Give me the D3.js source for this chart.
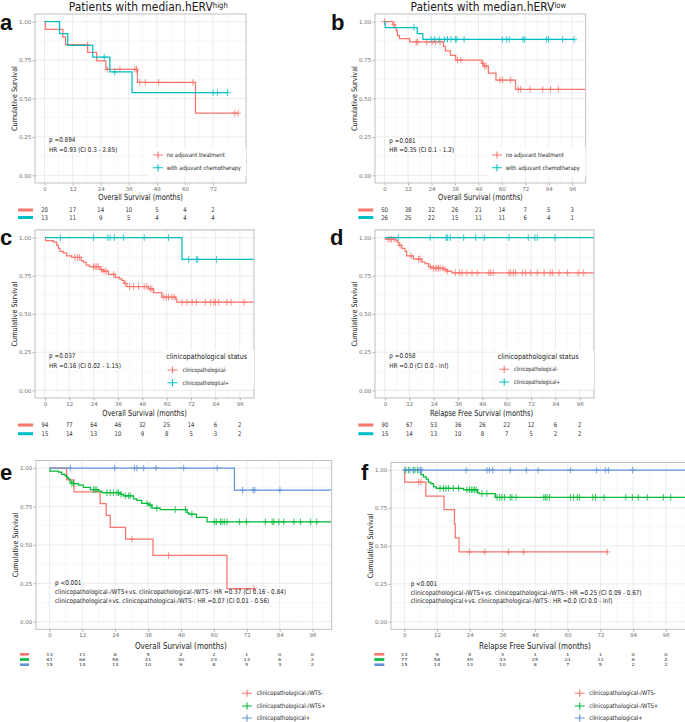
<!DOCTYPE html>
<html><head><meta charset="utf-8">
<script src="https://cdn.jsdelivr.net/npm/d3@7"></script>
<style>html,body{margin:0;padding:0;background:#fff;} svg{display:block;}</style>
</head><body>
<svg id="chart" width="685" height="722"></svg>
<script>
// ---------------- DATA ----------------
const monthTicks72 = [0, 12, 24, 36, 48, 60, 72];
const monthTicks96 = [0, 12, 24, 36, 48, 60, 72, 84, 96];
const yTickValues = [0, 0.25, 0.5, 0.75, 1];

// Panel a: median.hERV high
const aNoAdjTime = [0.3, 7.8, 9.0, 18.4, 22.3, 26.2, 39.7, 64.5];
const aNoAdjSurv = [0.95, 0.90, 0.85, 0.80, 0.745, 0.69, 0.605, 0.404];
const aNoAdjCens = [18.3, 26.8, 32.2, 38.6, 39.3, 40.7, 43.1, 48.7, 63.4, 81.3, 82.7];
const aNoAdjEnd = 82.7;
const aChemoTime = [6.4, 9.9, 20.6, 27.9, 37.4];
const aChemoSurv = [0.923, 0.846, 0.769, 0.673, 0.538];
const aChemoCens = [25.5, 30.0, 72.0, 73.9, 78.2];
const aChemoEnd = 78.2;
const aRiskNoAdj = [20, 17, 14, 10, 5, 4, 2];
const aRiskChemo = [13, 11, 9, 5, 4, 4, 4];

// Panel b: median.hERV low
const bNoAdjTime = [4.3, 5.3, 6.0, 6.6, 7.6, 12.8, 30.1, 31.1, 33.7, 36.4, 49.8, 50.6, 53.1, 57.0, 67.0];
const bNoAdjSurv = [0.98, 0.96, 0.94, 0.91, 0.89, 0.868, 0.84, 0.81, 0.78, 0.75, 0.73, 0.71, 0.665, 0.62, 0.56];
const bNoAdjCens = [0, 4.8, 16.2, 16.9, 21.6, 24.3, 26.0, 28.4, 37.3, 39.0, 50.2, 51.2, 52.0, 59.1, 60.4, 64.5, 68.4, 69.6, 74.4, 80.9, 84.9, 88.9];
const bNoAdjEnd = 103;
const bChemoTime = [0.3, 16.7, 19.6];
const bChemoSurv = [0.962, 0.923, 0.885];
const bChemoCens = [15.0, 23.7, 25.6, 27.9, 30.6, 32.2, 34.0, 36.3, 37.0, 40.7, 60.3, 62.3, 63.7, 70.8, 71.7, 82.9, 83.9, 91.1, 97.0];
const bChemoEnd = 97;
const bRiskNoAdj = [50, 38, 32, 26, 21, 14, 7, 5, 3];
const bRiskChemo = [26, 25, 22, 15, 11, 11, 6, 4, 1];

// Panel c: OS by clinicopathological status
const cNegTime = [0.3, 4.1, 5.8, 6.6, 7.4, 9.1, 10.7, 13.2, 17.8, 18.9, 20.3, 21.9, 27.2, 28.8, 31.3, 34.6, 36.7, 37.9, 39.0, 40.3, 51.0, 53.5, 57.6, 64.5, 65.0];
const cNegSurv = [0.98, 0.97, 0.95, 0.93, 0.91, 0.90, 0.88, 0.87, 0.85, 0.84, 0.82, 0.81, 0.79, 0.78, 0.76, 0.74, 0.73, 0.72, 0.70, 0.68, 0.665, 0.64, 0.61, 0.595, 0.577];
const cNegCens = [14.8, 16.0, 17.0, 23.9, 24.7, 25.5, 26.3, 28.0, 29.1, 30.1, 33.8, 39.5, 41.7, 43.6, 46.1, 48.9, 50.2, 51.9, 52.7, 58.5, 59.8, 60.9, 62.6, 63.7, 67.5, 70.0, 72.5, 74.6, 79.0, 81.5, 83.2, 84.0, 85.6, 89.7, 91.7, 98.0];
const cNegEnd = 103;
const cPosTime = [67.5];
const cPosSurv = [0.857];
const cPosCens = [7.6, 23.9, 31.0, 32.1, 34.2, 38.7, 48.9, 60.9, 70.8, 74.6, 75.3, 84.5];
const cPosEnd = 103;
const cRiskNeg = [94, 77, 64, 46, 32, 25, 14, 6, 2];
const cRiskPos = [15, 14, 13, 10, 9, 8, 5, 3, 2];

// Panel d: RFS by clinicopathological status
const dNegTime = [0.2, 5.4, 6.1, 6.9, 8.3, 9.9, 10.7, 14.0, 18.2, 19.8, 21.5, 23.1, 28.9, 30.5, 33.0];
const dNegSurv = [0.99, 0.98, 0.97, 0.95, 0.93, 0.91, 0.88, 0.86, 0.84, 0.83, 0.81, 0.80, 0.79, 0.78, 0.77];
const dNegCens = [1.5, 2.5, 3.3, 4.5, 7.4, 12.9, 16.5, 17.3, 22.3, 23.9, 24.8, 25.6, 26.4, 27.2, 28.5, 29.7, 30.9, 34.7, 36.8, 38.0, 40.4, 42.9, 45.4, 51.2, 52.0, 53.3, 61.1, 61.9, 63.2, 64.4, 67.7, 69.3, 71.8, 75.1, 78.4, 81.4, 82.5, 85.8, 89.9, 95.2, 97.9];
const dNegEnd = 103;
const dPosTime = [];
const dPosSurv = [];
const dPosCens = [6.6, 22.3, 30.2, 30.9, 32.2, 38.8, 44.7, 49.0, 61.1, 70.6, 73.9, 75.1, 83.8];
const dPosEnd = 103;
const dRiskNeg = [90, 67, 53, 36, 26, 22, 12, 6, 2];
const dRiskPos = [15, 14, 13, 10, 8, 7, 5, 2, 2];

// Panel e: OS, three groups
const eWtsNegTime = [6.3, 9.0, 18.5, 20.7, 22.2, 27.8, 37.8, 64.8];
const eWtsNegSurv = [0.923, 0.846, 0.769, 0.692, 0.615, 0.538, 0.431, 0.215];
const eWtsNegCens = [30.1, 43.5, 74.6];
const eWtsNegEnd = 74.6;
const eWtsPosTime = [0.2, 3.3, 4.5, 5.7, 6.3, 6.9, 7.5, 8.2, 10.6, 12.4, 14.9, 17.9, 19.1, 25.8, 27.0, 30.7, 31.9, 33.7, 36.2, 37.4, 40.4, 50.2, 50.8, 53.6, 57.5];
const eWtsPosSurv = [0.98, 0.975, 0.96, 0.95, 0.94, 0.93, 0.91, 0.90, 0.89, 0.875, 0.86, 0.85, 0.84, 0.83, 0.82, 0.80, 0.79, 0.77, 0.76, 0.74, 0.73, 0.71, 0.70, 0.68, 0.65];
const eWtsPosCens = [8.2, 8.8, 16.1, 16.7, 17.3, 21.0, 22.2, 23.4, 24.6, 25.2, 26.1, 27.7, 28.9, 29.5, 35.6, 36.8, 39.2, 45.9, 49.6, 52.0, 60.2, 60.9, 62.4, 63.0, 63.8, 64.8, 69.4, 71.9, 78.8, 81.3, 81.9, 83.7, 85.5, 89.2, 91.6, 95.3, 97.5];
const eWtsPosEnd = 103;
const eClinPosTime = [67.5];
const eClinPosSurv = [0.857];
const eClinPosCens = [7.6, 23.8, 31.0, 31.9, 34.4, 38.9, 49.0, 61.2, 70.5, 74.3, 74.9, 84.1];
const eClinPosEnd = 103;
const eRiskWtsNeg = [13, 11, 8, 5, 2, 2, 1, 0, 0];
const eRiskWtsPos = [81, 66, 56, 41, 30, 23, 13, 6, 2];
const eRiskClinPos = [15, 14, 13, 10, 9, 8, 5, 3, 2];

// Panel f: RFS, three groups
const fWtsNegTime = [0.1, 7.9, 14.6, 18.4, 18.7, 20.1];
const fWtsNegSurv = [0.921, 0.829, 0.739, 0.645, 0.553, 0.46];
const fWtsNegCens = [5.2, 6.1, 23.9, 29.5, 38.3, 43.8, 74.5];
const fWtsNegEnd = 74.5;
const fWtsPosTime = [6.1, 7.0, 8.0, 8.8, 9.7, 10.7, 11.7, 21.7, 26.9, 27.5, 33.4];
const fWtsPosSurv = [0.97, 0.955, 0.94, 0.92, 0.91, 0.89, 0.88, 0.87, 0.85, 0.845, 0.82];
const fWtsPosCens = [0.5, 1.5, 3.3, 3.9, 4.8, 13.1, 14.4, 15.3, 16.2, 18.0, 19.9, 23.0, 23.9, 24.6, 25.2, 25.8, 26.4, 28.5, 30.3, 34.0, 35.0, 35.8, 36.8, 38.9, 39.5, 41.0, 51.2, 51.8, 52.4, 53.3, 61.0, 62.2, 63.5, 64.3, 69.2, 70.2, 73.3, 81.3, 83.7, 85.9, 89.2, 95.1, 97.8];
const fWtsPosEnd = 104;
const fClinPosTime = [];
const fClinPosSurv = [];
const fClinPosCens = [0.2, 2.1, 3.3, 5.4, 6.0, 6.4, 22.7, 30.4, 31.2, 32.4, 38.9, 44.8, 49.1, 61.0, 70.6, 73.8, 74.9, 83.8];
const fClinPosEnd = 104;
const fRiskWtsNeg = [13, 9, 4, 3, 1, 1, 1, 0, 0];
const fRiskWtsPos = [77, 58, 49, 33, 25, 21, 11, 6, 2];
const fRiskClinPos = [15, 14, 13, 10, 8, 7, 5, 2, 2];

// ---------------- DRAWING ----------------
const RED = '#F8766D', TEAL = '#00BFC4', GREEN = '#00BA38', BLUE = '#6193DB';
const FONT = 'DejaVu Sans, sans-serif';
const svg = d3.select('#chart');
svg.append('rect').attr('width', 685).attr('height', 722).attr('fill', '#fff');

function txt(g, x, y, s, size, o = {}) {
  const sx = o.sx ?? 0.86, sy = o.sy ?? 1, rot = o.rot ? ` rotate(${o.rot})` : '';
  const t = g.append('text')
    .attr('transform', `translate(${x},${y})${rot} scale(${sx},${sy})`)
    .attr('font-size', size).attr('font-family', o.family || FONT)
    .attr('text-anchor', o.anchor || 'start').attr('fill', o.fill || '#1a1a1a');
  if (o.weight) t.attr('font-weight', o.weight);
  t.text(s);
  return t;
}

function survAt(s, t) {
  let v = 1;
  for (let i = 0; i < s.time.length; i++) if (s.time[i] <= t) v = s.surv[i];
  return v;
}

let clipId = 0;
function panel(p) {
  const [x0, y0, x1, y1] = p.box;
  const x = d3.scaleLinear().domain(p.xdom).range([x0, x1]);
  const y = d3.scaleLinear().domain([-0.05, 1.05]).range([y1, y0]);
  const g = svg.append('g');
  g.append('rect').attr('x', x0).attr('y', y0).attr('width', x1 - x0).attr('height', y1 - y0).attr('fill', '#fff');

  const xMinor = p.xticks.map(d => d + 6).filter(d => x(d) < x1);
  const yMinor = [0.125, 0.375, 0.625, 0.875];
  g.selectAll(null).data(xMinor).join('line')
    .attr('x1', d => x(d)).attr('x2', d => x(d)).attr('y1', y0).attr('y2', y1)
    .attr('stroke', '#f3f3f3').attr('stroke-width', 0.6);
  g.selectAll(null).data(yMinor).join('line')
    .attr('x1', x0).attr('x2', x1).attr('y1', d => y(d)).attr('y2', d => y(d))
    .attr('stroke', '#f3f3f3').attr('stroke-width', 0.6);
  g.selectAll(null).data(p.xticks).join('line')
    .attr('x1', d => x(d)).attr('x2', d => x(d)).attr('y1', y0).attr('y2', y1)
    .attr('stroke', '#e6e6e6').attr('stroke-width', 0.8);
  g.selectAll(null).data(yTickValues).join('line')
    .attr('x1', x0).attr('x2', x1).attr('y1', d => y(d)).attr('y2', d => y(d))
    .attr('stroke', '#e6e6e6').attr('stroke-width', 0.8);

  const cid = 'clip' + (clipId++);
  svg.append('clipPath').attr('id', cid).append('rect')
    .attr('x', x0).attr('y', y0).attr('width', x1 - x0).attr('height', y1 - y0);
  const gc = g.append('g').attr('clip-path', `url(#${cid})`);
  const line = d3.line().x(d => x(d[0])).y(d => y(d[1])).curve(d3.curveStepAfter);

  p.series.forEach(s => {
    const pts = [[0, 1]];
    s.time.forEach((t, i) => pts.push([t, s.surv[i]]));
    pts.push([s.end, s.surv.length ? s.surv[s.surv.length - 1] : 1]);
    gc.append('path').attr('d', line(pts)).attr('fill', 'none')
      .attr('stroke', s.color).attr('stroke-width', 1.25);
    gc.selectAll(null).data(s.cens).join('path')
      .attr('d', c => {
        const cx = x(c), cy = y(survAt(s, c));
        return `M${cx - 2.8},${cy}H${cx + 2.8}M${cx},${cy - 3.3}V${cy + 3.3}`;
      })
      .attr('stroke', s.color).attr('stroke-width', 0.9).attr('fill', 'none').attr('opacity', 0.9);
  });

  g.append('rect').attr('x', x0).attr('y', y0).attr('width', x1 - x0).attr('height', y1 - y0)
    .attr('fill', 'none').attr('stroke', '#b8b8b8').attr('stroke-width', 0.9);

  const xa = d3.axisBottom(x).tickValues(p.xticks).tickSize(2.5).tickPadding(1.2).tickFormat(d3.format('d'));
  const gx = g.append('g').attr('transform', `translate(0,${y1})`).call(xa);
  gx.select('.domain').remove();
  gx.selectAll('line').attr('stroke', '#b3b3b3');
  gx.selectAll('text').attr('font-size', 5.5).attr('fill', '#707070').attr('font-family', FONT);

  const ya = d3.axisLeft(y).tickValues(yTickValues).tickSize(2.5).tickPadding(1.2).tickFormat(d3.format('.2f'));
  const gy = g.append('g').attr('transform', `translate(${x0},0)`).call(ya);
  gy.select('.domain').remove();
  gy.selectAll('line').attr('stroke', '#b3b3b3');
  gy.selectAll('text').attr('font-size', 5.5).attr('fill', '#707070').attr('font-family', FONT);

  // axis titles
  txt(g, (x0 + Math.min(x1, 685)) / 2 + (p.xTitleShift || 0), y1 + p.xTitleDy, p.xTitle, p.xTitleSize, { anchor: 'middle', sx: 0.78 });
  txt(g, x0 - 18.3, (y0 + y1) / 2, 'Cumulative Survival', 7.5, { anchor: 'middle', rot: -90, sx: 0.86 });

  // stats text
  p.stats.forEach((s, i) => txt(g, p.statsX, p.statsY[i], s, p.statsSize, { sx: 0.86 }));

  // legend
  const L = p.legend;
  if (L.bg) g.append('rect').attr('x', L.bg[0]).attr('y', L.bg[1]).attr('width', L.bg[2] - L.bg[0]).attr('height', L.bg[3] - L.bg[1]).attr('fill', '#fff');
  if (L.title) txt(g, L.title[0], L.title[1], L.title[2], 7.5, { sx: 0.85 });
  p.series.forEach((s, i) => {
    const cy = L.ys[i];
    g.append('path').attr('d', `M${L.crossX - 5},${cy}H${L.crossX + 5}M${L.crossX},${cy - 3.5}V${cy + 3.5}`)
      .attr('stroke', s.color).attr('stroke-width', 1.1);
    txt(g, L.textX, cy + 2, s.name, L.size, { sx: L.sx });
  });

  // risk table
  p.risk.forEach((vals, i) => {
    const yy = p.riskY[i];
    g.append('rect').attr('x', p.swatch[0]).attr('y', yy - p.swH / 2).attr('width', p.swatch[1] - p.swatch[0])
      .attr('height', p.swH).attr('fill', p.series[i].color);
    vals.forEach((v, j) => txt(g, x(p.riskTimes[j]), yy + p.riskDy, String(v), 6.5,
      { anchor: 'middle', sx: p.riskSx, sy: p.riskSy, fill: '#333' }));
  });
  if (p.underline) g.append('line').attr('x1', x0).attr('x2', x1 + 9).attr('y1', p.underline).attr('y2', p.underline)
    .attr('stroke', '#ececec').attr('stroke-width', 0.8);
}

function mk(time, surv, cens, end, color, name) { return { time, surv, cens, end, color, name }; }

// panel a
panel({
  box: [35, 14, 246, 183], xdom: [-4.1, 86.1], xticks: monthTicks72,
  series: [mk(aNoAdjTime, aNoAdjSurv, aNoAdjCens, aNoAdjEnd, RED, 'no adjuvant treatment'),
           mk(aChemoTime, aChemoSurv, aChemoCens, aChemoEnd, TEAL, 'with adjuvant chemotherapy')],
  xTitle: 'Overall Survival (months)', xTitleSize: 8.5, xTitleDy: 17.3,
  stats: ['p =0.894', 'HR =0.93 (CI 0.3 - 2.85)'], statsX: 49, statsY: [142, 151.7], statsSize: 6.6,
  legend: { bg: [147.7, 146.7, 246, 176], crossX: 158, textX: 166.7, ys: [155, 167.7], size: 6, sx: 0.86 },
  risk: [aRiskNoAdj, aRiskChemo], riskTimes: monthTicks72, riskY: [210, 217.5], swatch: [18, 33], swH: 3,
  riskDy: 2.3, riskSx: 0.82, riskSy: 1, underline: 229.3
});
// panel b
panel({
  box: [375, 14, 585.7, 183], xdom: [-4.9, 102.9], xticks: monthTicks96,
  series: [mk(bNoAdjTime, bNoAdjSurv, bNoAdjCens, bNoAdjEnd, RED, 'no adjuvant treatment'),
           mk(bChemoTime, bChemoSurv, bChemoCens, bChemoEnd, TEAL, 'with adjuvant chemotherapy')],
  xTitle: 'Overall Survival (months)', xTitleSize: 8.5, xTitleDy: 17.3,
  stats: ['p =0.081', 'HR =0.35 (CI 0.1 - 1.2)'], statsX: 389.3, statsY: [143, 152.2], statsSize: 6.6,
  legend: { bg: [487.7, 146.7, 585.7, 176], crossX: 497, textX: 505.7, ys: [155, 167.7], size: 6, sx: 0.86 },
  risk: [bRiskNoAdj, bRiskChemo], riskTimes: monthTicks96, riskY: [210, 217.5], swatch: [358.3, 373.3], swH: 3,
  riskDy: 2.3, riskSx: 0.82, riskSy: 1, underline: 229.3
});
// panel c
panel({
  box: [35, 230, 254, 398], xdom: [-4.9, 103], xticks: monthTicks96,
  series: [mk(cNegTime, cNegSurv, cNegCens, cNegEnd, RED, 'clinicopathological-'),
           mk(cPosTime, cPosSurv, cPosCens, cPosEnd, TEAL, 'clinicopathological+')],
  xTitle: 'Overall Survival (months)', xTitleSize: 8.5, xTitleDy: 17.8,
  stats: ['p =0.037', 'HR =0.16 (CI 0.02 - 1.15)'], statsX: 49, statsY: [358, 367.7], statsSize: 6.6,
  legend: { bg: [163, 350, 254, 389], title: [166.3, 359.3, 'clinicopathological status'], crossX: 172.5, textX: 182.7, ys: [370, 382.7], size: 6, sx: 0.76 },
  risk: [cRiskNeg, cRiskPos], riskTimes: monthTicks96, riskY: [425, 433.7], swatch: [18, 33], swH: 3,
  riskDy: 2.3, riskSx: 0.82, riskSy: 1
});
// panel d
panel({
  box: [375, 230, 594, 398], xdom: [-4.9, 103], xticks: monthTicks96,
  series: [mk(dNegTime, dNegSurv, dNegCens, dNegEnd, RED, 'clinicopathological-'),
           mk(dPosTime, dPosSurv, dPosCens, dPosEnd, TEAL, 'clinicopathological+')],
  xTitle: 'Relapse Free Survival (months)', xTitleSize: 8.5, xTitleDy: 17.8, xTitleShift: -3,
  stats: ['p =0.058', 'HR =0.0 (CI 0.0 - Inf)'], statsX: 389.3, statsY: [358, 367.7], statsSize: 6.6,
  legend: { bg: [495, 350, 594, 389], title: [497.7, 359, 'clinicopathological status'], crossX: 504.2, textX: 514, ys: [369.3, 382], size: 6, sx: 0.76 },
  risk: [dRiskNeg, dRiskPos], riskTimes: monthTicks96, riskY: [425, 433.7], swatch: [358.3, 373.3], swH: 3,
  riskDy: 2.3, riskSx: 0.82, riskSy: 1
});
// panel e
panel({
  box: [36, 460.5, 331.7, 629.3], xdom: [-4.9, 103], xticks: monthTicks96,
  series: [mk(eWtsNegTime, eWtsNegSurv, eWtsNegCens, eWtsNegEnd, RED, 'clinicopathological-/WTS-'),
           mk(eWtsPosTime, eWtsPosSurv, eWtsPosCens, eWtsPosEnd, GREEN, 'clinicopathological-/WTS+'),
           mk(eClinPosTime, eClinPosSurv, eClinPosCens, eClinPosEnd, BLUE, 'clinicopathological+')],
  xTitle: 'Overall Survival (months)', xTitleSize: 9.2, xTitleDy: 19.2, xTitleShift: -3,
  stats: ['p <0.001', 'clinicopathological-/WTS+vs. clinicopathological-/WTS-: HR =0.37 (CI 0.16 - 0.84)',
          'clinicopathological+vs. clinicopathological-/WTS-: HR =0.07 (CI 0.01 - 0.56)'],
  statsX: 55, statsY: [585, 594, 603], statsSize: 6.6,
  legend: { crossX: 247, textX: 256.7, ys: [693.3, 706, 718], size: 6.2, sx: 0.85 },
  risk: [eRiskWtsNeg, eRiskWtsPos, eRiskClinPos], riskTimes: monthTicks96, riskY: [654.3, 659.5, 664.7],
  swatch: [20, 29], swH: 2.6, riskDy: 1.5, riskSx: 0.8, riskSy: 0.62
});
// panel f
panel({
  box: [391, 462.5, 686.5, 629.3], xdom: [-4.9, 103.6], xticks: monthTicks96,
  series: [mk(fWtsNegTime, fWtsNegSurv, fWtsNegCens, fWtsNegEnd, RED, 'clinicopathological-/WTS-'),
           mk(fWtsPosTime, fWtsPosSurv, fWtsPosCens, fWtsPosEnd, GREEN, 'clinicopathological-/WTS+'),
           mk(fClinPosTime, fClinPosSurv, fClinPosCens, fClinPosEnd, BLUE, 'clinicopathological+')],
  xTitle: 'Relapse Free Survival (months)', xTitleSize: 9.2, xTitleDy: 19.2, xTitleShift: -3,
  stats: ['p <0.001', 'clinicopathological-/WTS+vs. clinicopathological-/WTS-: HR =0.25 (CI 0.09 - 0.67)',
          'clinicopathological+vs. clinicopathological-/WTS-: HR =0.0 (CI 0.0 - Inf)'],
  statsX: 410.7, statsY: [585.7, 594.5, 603.2], statsSize: 6.6,
  legend: { crossX: 579.7, textX: 589.3, ys: [693.3, 706, 718], size: 6.2, sx: 0.85 },
  risk: [fRiskWtsNeg, fRiskWtsPos, fRiskClinPos], riskTimes: monthTicks96, riskY: [654.3, 659.5, 664.7],
  swatch: [374.3, 384.3], swH: 2.6, riskDy: 1.5, riskSx: 0.8, riskSy: 0.62
});

// titles
function title(cx, sup) {
  const t = svg.append('text').attr('transform', `translate(${cx},11.2) scale(0.86,1)`)
    .attr('text-anchor', 'middle').attr('font-family', FONT).attr('font-size', 12.5).attr('fill', '#1a1a1a');
  t.append('tspan').text('Patients with median.hERV');
  t.append('tspan').attr('font-size', 8).attr('dy', -3.3).text(sup);
}
title(148.3, 'high');
title(488.3, 'low');

// panel letters
const letters = [['a', 0, 30], ['b', 331, 30], ['c', 0, 245], ['d', 330, 245], ['e', 0, 479.5], ['f', 361, 480]];
letters.forEach(([l, lx, ly]) => txt(svg, lx, ly, l, 22, { sx: 1, weight: 'bold', family: 'Liberation Sans, Arial, sans-serif', fill: '#111' }));
</script></body></html>
